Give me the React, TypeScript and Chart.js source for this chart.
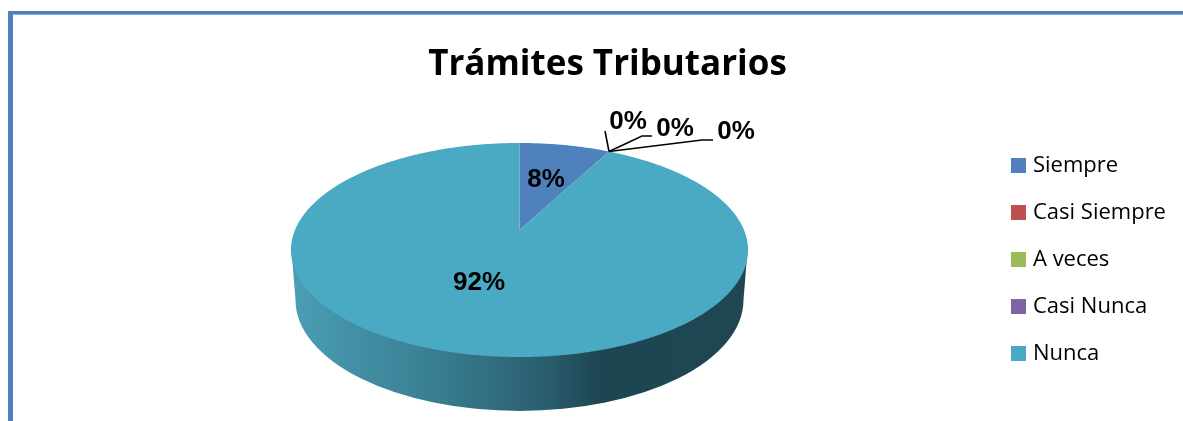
import React, { useEffect, useRef } from "react";
import { Chart, registerables } from "chart.js";

Chart.register(...registerables);

const categories = ["Siempre", "Casi Siempre", "A veces", "Casi Nunca", "Nunca"];
const respuestas = [1, 0, 0, 0, 12];
const colores = ["#4F81BD", "#C0504D", "#9BBB59", "#8064A2", "#4AA9C3"];
const titulo = "Trámites Tributarios";

// Perspective of the tilted disc: the centre of the pie sits above the centre of its ellipse.
const CX = 519.5;
const APEX_Y = 230;
const RX = 224.5;
const RY = 103.3;
const TILT = -0.187;
const project = (a: number, rel = 1) => {
  const u = Math.cos(a) * rel;
  const v = Math.sin(a) * rel;
  const w = 1 + TILT * v;
  return { x: CX + (RX * u) / w, y: APEX_Y + (RY * v) / w };
};

const percentText = (v: number, total: number) => `${Math.round((v / total) * 100)}%`;

const pie3d = {
  id: "pie3d",
  afterLayout(chart: any) {
    chart.legend.left = 990;
    chart.legend.top = 129.5;
  },
  beforeDatasetDraw(chart: any, args: any) {
    const ctx: CanvasRenderingContext2D = chart.ctx;
    const meta = args.meta;
    // side wall
    const g = ctx.createLinearGradient(296, 0, 744, 0);
    g.addColorStop(0, "#4A9DB3");
    g.addColorStop(0.3, "#397F93");
    g.addColorStop(0.55, "#2A5F70");
    g.addColorStop(0.68, "#1E4552");
    g.addColorStop(1, "#1E4753");
    ctx.save();
    ctx.fillStyle = g;
    ctx.beginPath();
    ctx.moveTo(291.5, 250);
    ctx.lineTo(295.5, 300);
    ctx.ellipse(CX, 300, 224, 111, 0, Math.PI, 0, true);
    ctx.lineTo(747.5, 250);
    ctx.closePath();
    ctx.fill();
    // top face
    meta.data.forEach((arc: any, i: number) => {
      const span = arc.endAngle - arc.startAngle;
      if (span <= 0) return;
      ctx.fillStyle = colores[i];
      ctx.beginPath();
      ctx.moveTo(CX, APEX_Y);
      const n = Math.ceil(span * 120);
      for (let k = 0; k <= n; k++) {
        const p = project(arc.startAngle + (span * k) / n);
        ctx.lineTo(p.x, p.y);
      }
      ctx.closePath();
      ctx.fill();
    });
    ctx.restore();
    return false;
  },
  afterDatasetsDraw(chart: any) {
    const ctx: CanvasRenderingContext2D = chart.ctx;
    const meta = chart.getDatasetMeta(0);
    const total = respuestas.reduce((a, b) => a + b, 0);
    const tip = project(meta.data[0].endAngle);
    ctx.save();
    // leader lines of the three empty slices
    ctx.strokeStyle = "#000";
    ctx.lineWidth = 1.6;
    const leaders = [
      [[605, 131]],
      [[642, 136], [652, 136]],
      [[702, 140], [713, 140]],
    ];
    leaders.forEach((pts) => {
      ctx.beginPath();
      ctx.moveTo(tip.x, tip.y);
      pts.forEach(([x, y]) => ctx.lineTo(x, y));
      ctx.stroke();
    });
    ctx.fillStyle = "#000";
    ctx.font = 'bold 26px "Liberation Sans"';
    ctx.textAlign = "center";
    ctx.textBaseline = "middle";
    const places = [
      [546, 180],
      [628, 122],
      [675, 129],
      [736, 132],
      [479, 283],
    ];
    respuestas.forEach((v, i) => {
      ctx.fillText(percentText(v, total), places[i][0], places[i][1]);
    });
    ctx.restore();
  },
};

export default function App() {
  const ref = useRef<HTMLCanvasElement>(null);
  useEffect(() => {
    const chart = new Chart(ref.current as HTMLCanvasElement, {
      type: "pie",
      data: {
        labels: categories,
        datasets: [{ data: respuestas, backgroundColor: colores, borderWidth: 0 }],
      },
      plugins: [pie3d],
      options: {
        responsive: false,
        animation: false,
        layout: { padding: { left: 32, top: 0, right: 0 } },
        plugins: {
          tooltip: { enabled: false },
          title: {
            display: true,
            text: titulo,
            color: "#000",
            font: { family: '"Open Sans"', size: 35, weight: "bold" },
            padding: { top: 44, bottom: 10 },
          },
          legend: {
            position: "right",
            align: "start",
            labels: {
              boxWidth: 7,
              boxHeight: 7,
              padding: 25,
              color: "#000",
              font: { family: '"Open Sans"', size: 22 },
              generateLabels(chart: any) {
                const base = (Chart as any).overrides.pie.plugins.legend.labels.generateLabels(chart);
                return base.map((item: any, i: number) => ({
                  ...item,
                  strokeStyle: colores[i],
                  lineWidth: 8,
                  lineJoin: "miter",
                }));
              },
            },
          },
        },
      } as any,
    });
    return () => chart.destroy();
  }, []);
  return (
    <div style={{ position: "absolute", left: 0, top: 0, width: 1183, height: 421, overflow: "hidden", background: "#fff" }}>
      <canvas ref={ref} width={1183} height={421} style={{ position: "absolute", left: 0, top: 0 }} />
      <div style={{ position: "absolute", left: 8, top: 11, width: 1175, height: 3, background: "#4F81BD" }} />
      <div style={{ position: "absolute", left: 13, top: 14, width: 1170, height: 1, background: "#8DB0DA" }} />
      <div style={{ position: "absolute", left: 8, top: 11, width: 5, height: 410, background: "#4F81BD" }} />
    </div>
  );
}
